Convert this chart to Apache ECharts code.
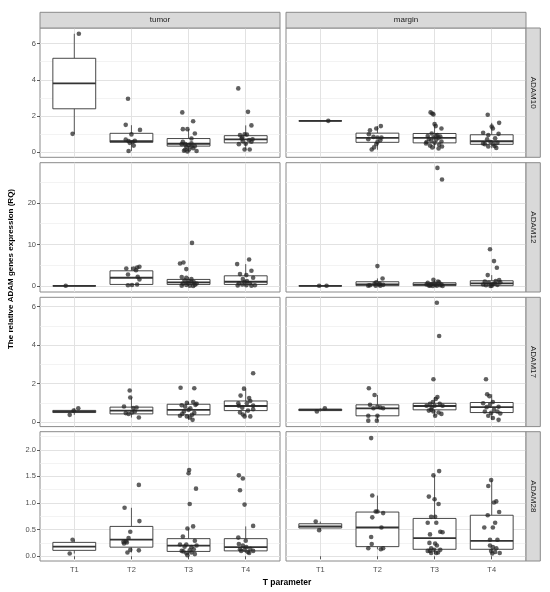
<!DOCTYPE html>
<html><head><meta charset="utf-8">
<script src="https://cdn.jsdelivr.net/npm/echarts@6.0.0/dist/echarts.min.js"></script>
<style>html,body{margin:0;padding:0;background:#fff}#c{width:550px;height:592px}</style>
</head><body><div id="c"></div><script>
const categories = ['T1','T2','T3','T4'];
const tissues = ['tumor','margin'];
const genes = ['ADAM10','ADAM12','ADAM17','ADAM28'];
const yTicks = [[0,2,4,6],[0,10,20],[0,2,4,6],[0,0.5,1,1.5,2]];
const yStep = [2,10,2,0.5];
const yRange = [[-0.3,6.87],[-1.42,29.65],[-0.23,6.48],[-0.09,2.34]];

// box stats per T1..T4: [lower whisker, Q1, median, Q3, upper whisker]
const boxADAM10tumor = [[1.0,2.39,3.8,5.19,6.55],[0.05,0.53,0.6,1.03,1.48],[0.02,0.32,0.45,0.74,1.26],[0.13,0.5,0.69,0.9,1.47]];
const boxADAM10margin = [[1.72,1.72,1.72,1.72,1.72],[0.12,0.53,0.78,1.04,1.43],[0.19,0.5,0.78,1.02,1.54],[0.2,0.42,0.59,0.95,1.61]];
const boxADAM12tumor = [[0.07,0.07,0.07,0.07,0.07],[0.2,0.4,2.0,3.67,4.64],[0.05,0.4,0.88,1.6,2.2],[0.1,0.4,1.04,2.47,5.28]];
const boxADAM12margin = [[0.07,0.07,0.07,0.07,0.07],[0.05,0.1,0.4,1.04,1.84],[0.03,0.1,0.35,0.8,1.5],[0.05,0.1,0.64,1.28,2.64]];
const boxADAM17tumor = [[0.38,0.5,0.55,0.61,0.72],[0.24,0.43,0.6,0.78,1.28],[0.12,0.38,0.64,0.93,1.05],[0.3,0.6,0.84,1.1,1.74]];
const boxADAM17margin = [[0.55,0.6,0.64,0.68,0.72],[0.08,0.33,0.72,0.9,1.41],[0.33,0.64,0.84,0.98,1.3],[0.12,0.5,0.78,1.02,1.45]];
const boxADAM28tumor = [[0.05,0.11,0.18,0.26,0.31],[0.07,0.17,0.31,0.56,0.91],[0.02,0.09,0.2,0.33,0.52],[0.06,0.1,0.17,0.33,0.56]];
const boxADAM28margin = [[0.49,0.53,0.56,0.61,0.65],[0.13,0.18,0.54,0.83,1.14],[0.04,0.13,0.34,0.71,1.52],[0.05,0.13,0.29,0.77,1.43]];

// jittered observations per T1..T4: [jitter offset, value]
const ptsADAM10tumor = [
 [[0.08,6.55],[-0.03,1.0]],
 [[-0.06,2.95],[-0.1,1.5],[0.15,1.22],[0,0.97],[-0.1,0.68],[-0.05,0.6],[0.02,0.55],[-0.03,0.5],[0.04,0.35],[-0.05,0.05],[0.06,0.62]],
 [[-0.11,2.19],[0.08,1.7],[-0.1,1.26],[-0.02,1.26],[0.11,1.02],[0.05,0.74],[-0.1,0.56],[-0.06,0.43],[0.05,0.47],[0.11,0.32],[-0.04,0.28],[-0.12,0.43],[-0.08,0.06],[0.01,0.13],[0.14,0.05],[0.05,0.3],[0,0.38],[-0.06,0.12],[0.08,0.2],[-0.02,0.02]],
 [[-0.13,3.52],[0.04,2.22],[0.1,1.47],[-0.1,0.93],[-0.02,0.98],[0.02,0.96],[-0.07,0.74],[-0.05,0.59],[0.06,0.65],[0.1,0.56],[-0.12,0.43],[-0.02,0.13],[0.07,0.13],[0,0.45],[-0.06,0.8],[0.12,0.7]]
];
const ptsADAM10margin = [
 [[0.14,1.72]],
 [[0.06,1.43],[-0.02,1.3],[-0.13,1.2],[-0.15,0.98],[-0.07,0.83],[0,0.8],[0.07,0.8],[-0.16,0.7],[0.05,0.65],[-0.02,0.43],[-0.1,0.13],[-0.06,0.25],[0,0.55]],
 [[-0.07,2.19],[-0.04,2.13],[-0.02,2.08],[0,1.54],[0.02,1.43],[0.12,1.3],[-0.05,1.02],[0.05,0.93],[-0.12,0.88],[0.1,0.85],[-0.02,0.8],[0.07,0.78],[-0.1,0.72],[0.03,0.68],[-0.06,0.62],[0.12,0.58],[-0.14,0.55],[0.0,0.5],[-0.15,0.47],[0.08,0.4],[-0.08,0.35],[0.13,0.3],[0.07,0.19],[-0.04,0.25],[0.02,0.9]],
 [[-0.07,2.06],[0.13,1.61],[0,1.41],[0.02,1.3],[0.12,1.0],[-0.15,1.06],[-0.06,0.93],[-0.08,0.7],[0.06,0.75],[-0.02,0.55],[-0.12,0.43],[0.03,0.43],[0.05,0.33],[0.08,0.22],[-0.06,0.3],[-0.15,0.47],[0.1,0.5]]
];
const ptsADAM12tumor = [
 [[-0.15,0.07]],
 [[-0.09,4.24],[0.04,4.24],[0.1,4.48],[0.14,4.64],[0.08,3.8],[-0.06,2.8],[0.11,2.24],[0.14,1.6],[0.01,0.25],[0.1,0.4],[-0.06,0.2]],
 [[0.06,10.38],[-0.15,5.43],[-0.09,5.67],[-0.04,4.08],[-0.12,2.2],[-0.04,2.0],[0.05,1.7],[-0.07,1.4],[0.09,1.0],[-0.1,0.6],[-0.04,0.3],[0.02,0.1],[0.14,0.6],[0.11,0.3],[-0.12,0.1],[0.05,0.9],[0,1.2],[0.08,0.05],[-0.02,0.75]],
 [[0.06,6.4],[-0.15,5.28],[0.1,3.67],[0.01,2.64],[-0.1,2.88],[-0.05,1.7],[0.13,2.0],[0.02,1.2],[-0.12,0.7],[-0.06,0.4],[0.01,0.2],[0.1,0.1],[-0.02,1.0],[0.16,0.2],[0.07,0.7],[-0.14,0.15]]
];
const ptsADAM12margin = [
 [[-0.02,0.07],[0.11,0.07]],
 [[0,4.8],[0.09,1.84],[-0.13,0.2],[-0.05,0.6],[-0.02,0.9],[0.03,0.4],[0.05,0.1],[-0.03,0.1],[0.04,0.6],[-0.16,0.1],[0.1,0.3]],
 [[0.05,28.4],[0.13,25.6],[-0.12,0.8],[-0.05,0.5],[0.02,0.3],[0.08,0.9],[0.12,0.4],[-0.1,0.15],[-0.03,0.05],[0.04,0.1],[0.1,0.2],[-0.07,0.3],[0,0.6],[-0.14,0.4],[0.06,1.1],[-0.02,1.5],[0.14,0.05],[-0.08,0.1]],
 [[-0.03,8.87],[0.04,6.0],[0.09,4.4],[-0.07,2.64],[0.13,1.44],[-0.12,1.1],[-0.05,0.8],[0.02,0.5],[0.07,1.2],[0.1,0.3],[-0.1,0.2],[0,0.1],[0.05,0.64],[-0.02,0.05],[0.15,0.9],[-0.15,0.4]]
];
const ptsADAM17tumor = [
 [[-0.08,0.38],[0.07,0.72],[-0.01,0.6]],
 [[-0.03,1.64],[-0.02,1.28],[-0.13,0.81],[0.03,0.73],[0.09,0.76],[-0.1,0.47],[-0.05,0.43],[0.01,0.5],[0.13,0.24],[0.06,0.55]],
 [[-0.14,1.79],[0.1,1.76],[-0.03,1.0],[0.08,1.05],[0.14,0.95],[-0.12,0.88],[-0.06,0.8],[0.03,0.72],[0,0.64],[-0.11,0.43],[-0.15,0.33],[-0.03,0.3],[0.06,0.38],[0.02,0.24],[0.07,0.12],[0.1,0.48],[-0.08,0.55],[0.12,0.9]],
 [[0.13,2.54],[-0.03,1.74],[-0.09,1.38],[0.06,1.25],[0.08,1.1],[0.02,0.98],[-0.13,0.98],[0.13,0.86],[-0.06,0.75],[0.13,0.67],[-0.1,0.5],[-0.05,0.4],[-0.02,0.3],[0.08,0.3],[0.04,0.6],[-0.12,0.85]]
];
const ptsADAM17margin = [
 [[-0.06,0.55],[0.08,0.72]],
 [[-0.15,1.76],[-0.05,1.41],[-0.13,0.9],[0,0.8],[0.1,0.72],[-0.07,0.72],[-0.16,0.33],[0,0.33],[-0.16,0.08],[-0.01,0.08],[0.05,0.76]],
 [[0.04,6.2],[0.08,4.47],[-0.02,2.23],[0.05,1.3],[0.02,1.2],[-0.03,1.05],[-0.08,0.95],[0.09,0.95],[0,0.85],[-0.14,0.85],[-0.05,0.75],[-0.1,0.6],[-0.02,0.55],[0.07,0.5],[0.12,0.43],[0.01,0.33],[-0.06,0.64],[0.14,0.85]],
 [[-0.1,2.23],[-0.08,1.45],[-0.04,1.35],[-0.15,0.98],[0.02,1.05],[-0.03,0.9],[-0.09,0.78],[0.12,0.8],[0.04,0.64],[-0.12,0.55],[0.1,0.55],[-0.06,0.33],[0.02,0.22],[0.12,0.12],[0.15,0.45],[-0.01,0.48]]
];
const ptsADAM28tumor = [
 [[-0.03,0.31],[-0.08,0.05]],
 [[-0.12,0.91],[0.13,1.34],[0.14,0.66],[-0.02,0.46],[-0.05,0.34],[-0.1,0.28],[-0.13,0.24],[-0.08,0.26],[-0.02,0.12],[-0.07,0.07],[0.13,0.11],[-0.14,0.27]],
 [[0.01,1.62],[0,1.56],[0.13,1.27],[0.02,0.98],[0.08,0.56],[-0.02,0.52],[-0.1,0.37],[0.11,0.29],[-0.15,0.22],[-0.04,0.22],[-0.07,0.18],[0.05,0.17],[0.14,0.2],[-0.12,0.1],[-0.04,0.06],[0.05,0.07],[0.11,0.04],[-0.09,0.09],[0.02,0.11],[0.09,0.13],[-0.02,0.02]],
 [[-0.12,1.52],[-0.05,1.46],[-0.1,1.24],[-0.02,0.97],[0.13,0.57],[-0.13,0.35],[0,0.29],[-0.12,0.23],[-0.05,0.2],[0.01,0.17],[0.08,0.14],[-0.08,0.1],[0.04,0.08],[0.13,0.1],[-0.02,0.12],[-0.1,0.13],[0.06,0.06]]
];
const ptsADAM28margin = [
 [[-0.08,0.65],[-0.02,0.49]],
 [[-0.11,2.22],[-0.09,1.14],[-0.03,0.84],[0.1,0.81],[-0.09,0.73],[0.07,0.54],[-0.11,0.36],[-0.1,0.23],[-0.16,0.15],[0.06,0.13],[0.1,0.15],[0.0,0.84]],
 [[-0.02,1.52],[0.08,1.6],[-0.1,1.12],[0,1.07],[0.07,0.98],[-0.06,0.74],[0.01,0.74],[-0.12,0.63],[0.03,0.63],[0.1,0.46],[0.14,0.45],[-0.08,0.41],[-0.09,0.25],[0.01,0.24],[0.04,0.2],[-0.06,0.15],[-0.01,0.12],[-0.12,0.1],[0.06,0.07],[-0.08,0.1],[0.03,0.06],[-0.06,0.06],[0.1,0.12]],
 [[-0.01,1.43],[-0.06,1.32],[0.04,1.01],[0.08,1.03],[0.13,0.83],[-0.07,0.77],[0.06,0.63],[-0.13,0.54],[0.02,0.54],[-0.03,0.31],[0.1,0.31],[-0.03,0.2],[0.02,0.17],[0.08,0.15],[-0.01,0.1],[0.06,0.08],[0.14,0.06],[0.01,0.05]]
];

const boxes = [[boxADAM10tumor, boxADAM10margin],[boxADAM12tumor, boxADAM12margin],[boxADAM17tumor, boxADAM17margin],[boxADAM28tumor, boxADAM28margin]];
const points = [[ptsADAM10tumor, ptsADAM10margin],[ptsADAM12tumor, ptsADAM12margin],[ptsADAM17tumor, ptsADAM17margin],[ptsADAM28tumor, ptsADAM28margin]];

// layout
const colLeft = [40, 286], panelW = 240;
const rowTop = [28, 162.7, 297.3, 431.7], panelH = 129.3;
const FONT = '"Liberation Sans", Arial, sans-serif';
const BORDER = '#8a8a8a';

const chart = echarts.init(document.getElementById('c'), null, {renderer: 'canvas'});
const grid = [], xAxis = [], yAxis = [], series = [];
const xVals = categories.map((_, i) => i + 1);

function renderBox(params, api) {
  const x = api.value(0), lo = api.value(1), q1 = api.value(2), md = api.value(3), q3 = api.value(4), hi = api.value(5);
  const hw = 0.375;
  const tl = api.coord([x - hw, q3]), br = api.coord([x + hw, q1]);
  const pLo = api.coord([x, lo]), pQ1 = api.coord([x, q1]), pQ3 = api.coord([x, q3]), pHi = api.coord([x, hi]);
  const mL = api.coord([x - hw, md]), mR = api.coord([x + hw, md]);
  const stroke = '#333';
  return {type: 'group', children: [
    {type: 'line', shape: {x1: pLo[0], y1: pLo[1], x2: pQ1[0], y2: pQ1[1]}, style: {stroke, lineWidth: 0.8}},
    {type: 'line', shape: {x1: pQ3[0], y1: pQ3[1], x2: pHi[0], y2: pHi[1]}, style: {stroke, lineWidth: 0.8}},
    {type: 'rect', shape: {x: tl[0], y: tl[1], width: br[0] - tl[0], height: br[1] - tl[1]}, style: {fill: '#fff', stroke, lineWidth: 0.9}},
    {type: 'line', shape: {x1: mL[0], y1: mL[1], x2: mR[0], y2: mR[1]}, style: {stroke, lineWidth: 1.8}}
  ]};
}

for (let r = 0; r < 4; r++) {
  for (let c = 0; c < 2; c++) {
    const gi = r * 2 + c;
    grid.push({left: colLeft[c], top: rowTop[r], width: panelW, height: panelH, show: true,
      borderColor: BORDER, borderWidth: 1, backgroundColor: '#fff', containLabel: false});
    xAxis.push({type: 'value', gridIndex: gi, min: 0.4, max: 4.6, splitNumber: 4, minInterval: 1, maxInterval: 1,
      axisLine: {show: false},
      axisTick: {show: r === 3, customValues: xVals, length: 3, lineStyle: {color: '#333', width: 0.8}},
      axisLabel: {show: r === 3, customValues: xVals, margin: 5, fontSize: 7.5, color: '#4d4d4d', fontFamily: FONT,
        formatter: v => categories[Math.round(v) - 1] || ''},
      splitLine: {show: true, lineStyle: {color: '#e2e2e2', width: 1}}
    });
    yAxis.push({type: 'value', gridIndex: gi, min: yRange[r][0], max: yRange[r][1],
      splitNumber: 4, minInterval: yStep[r], maxInterval: yStep[r],
      axisLine: {show: false},
      axisTick: {show: c === 0, customValues: yTicks[r], length: 3, lineStyle: {color: '#333', width: 0.8}},
      axisLabel: {show: c === 0, customValues: yTicks[r], margin: 4, fontSize: 7.5, color: '#4d4d4d', fontFamily: FONT,
        formatter: v => r === 3 ? v.toFixed(1) : String(v)},
      splitLine: {show: true, lineStyle: {color: '#e2e2e2', width: 1}},
      minorTick: {show: false, splitNumber: 2},
      minorSplitLine: {show: true, lineStyle: {color: '#eeeeee', width: 0.7}}
    });
    series.push({type: 'custom', xAxisIndex: gi, yAxisIndex: gi, renderItem: renderBox, z: 2,
      encode: {x: 0, y: [1, 2, 3, 4, 5]},
      data: boxes[r][c].map((b, i) => [i + 1].concat(b))});
    const sd = [];
    points[r][c].forEach((grp, i) => grp.forEach(p => sd.push([i + 1 + p[0], p[1]])));
    series.push({type: 'scatter', xAxisIndex: gi, yAxisIndex: gi, z: 3, symbolSize: 4.6,
      itemStyle: {color: '#222', opacity: 0.72}, data: sd});
  }
}

const graphic = [];
// top strips
for (let c = 0; c < 2; c++) {
  graphic.push({type: 'rect', shape: {x: colLeft[c], y: 12.3, width: panelW, height: rowTop[0] - 12.3},
    style: {fill: '#d9d9d9', stroke: BORDER, lineWidth: 1}, z: 10});
  graphic.push({type: 'text', x: colLeft[c] + panelW / 2, y: (12.3 + rowTop[0]) / 2,
    style: {text: tissues[c], fill: '#1a1a1a', fontSize: 8, fontFamily: FONT, align: 'center', verticalAlign: 'middle'}, z: 11});
}
// right strips
for (let r = 0; r < 4; r++) {
  const sx = colLeft[1] + panelW;
  graphic.push({type: 'rect', shape: {x: sx, y: rowTop[r], width: 14.3, height: panelH},
    style: {fill: '#d9d9d9', stroke: BORDER, lineWidth: 1}, z: 10});
  graphic.push({type: 'text', x: sx + 7.2, y: rowTop[r] + panelH / 2, rotation: -Math.PI / 2,
    style: {text: genes[r], fill: '#1a1a1a', fontSize: 8, fontFamily: FONT, align: 'center', verticalAlign: 'middle'}, z: 11});
}
graphic.push({type: 'text', x: 287, y: 583,
  style: {text: 'T parameter', fill: '#000', fontSize: 8.5, fontWeight: 'bold', fontFamily: FONT, align: 'center', verticalAlign: 'middle'}});
graphic.push({type: 'text', x: 11, y: 269, rotation: Math.PI / 2,
  style: {text: 'The relative ADAM genes expression (RQ)', fill: '#000', fontSize: 8, fontWeight: 'bold', fontFamily: FONT, align: 'center', verticalAlign: 'middle'}});

chart.setOption({animation: false, backgroundColor: '#fff', grid, xAxis, yAxis, series, graphic});
</script></body></html>
